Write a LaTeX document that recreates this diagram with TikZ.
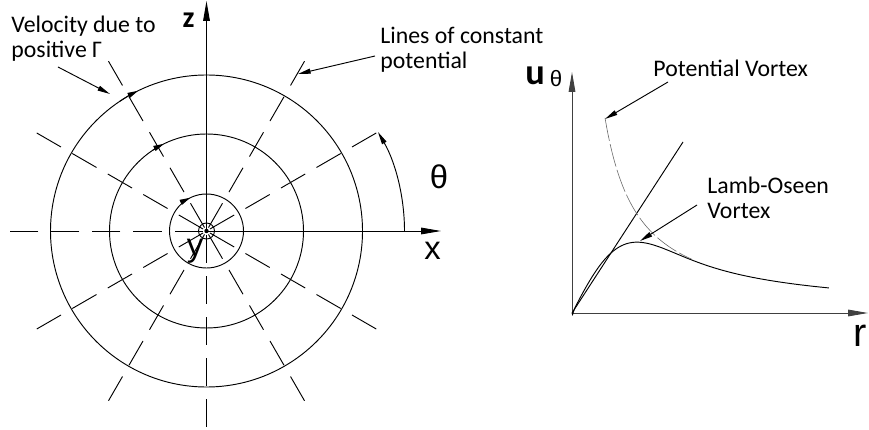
\documentclass[tikz,border=0pt]{standalone}
\usepackage{fontspec}
\setmainfont{Carlito}
\newfontfamily\arialf{Liberation Sans}
\usetikzlibrary{arrows.meta}
\begin{document}
\begin{tikzpicture}[x=0.03cm,y=-0.03cm,
  line width=0.8pt,
  axarrow/.style={-{Triangle[length=0.6cm,width=0.2cm]}},
  ldarrow/.style={-{Triangle[length=0.38cm,width=0.15cm]}},
  circarrow/.style={-{Triangle[length=0.32cm,width=0.16cm]}},
  radial/.style={dash pattern=on 0.84cm off 0.39cm},
  axiscol/.style={draw=black!75},
  lbl/.style={font=\fontsize{20.3}{21.3}\selectfont, align=left, inner sep=0pt},
  big/.style={font=\arialf\fontsize{28}{30}\selectfont, inner sep=0pt},
]
\useasboundingbox (0,0) rectangle (869,430);
% ---------- left figure ----------
\coordinate (c) at (206.5,231);
\coordinate (ztip) at (206.5,1);
\coordinate (xtip) at (441,231);
\draw[axarrow] (c) -- (ztip);
\draw[axarrow] (c) -- (xtip);
\foreach \a in {30,60,120,150,180,210,240,270,300,330}
  \draw[radial] (c) ++(-\a:4) -- ++(-\a:194);
\foreach \r in {156,97,37,8}
  \draw (c) circle[radius=\r];
\fill (c) circle[radius=2.2];
\foreach \r in {156,97,37}
  \draw[circarrow] (c) ++(-124:\r) arc[start angle=-124, end angle=-116, radius=\r];
\draw[ldarrow] (c) ++(0:198) arc[start angle=0, end angle=-30, radius=198];
% labels left
\node[lbl, anchor=west] (vel) at (11,38.5) {Velocity due to\\positive Γ};
\coordinate (velfrom) at (58,67);
\coordinate (velto) at (110,94);
\draw[ldarrow] (velfrom) -- (velto);
\node[lbl, anchor=west] (lc) at (380,49.5) {Lines of constant\\potential};
\coordinate (lcfrom) at (375,56);
\coordinate (lcto) at (298,74);
\draw[ldarrow] (lcfrom) -- (lcto);
\node[font=\bfseries\fontsize{25.6}{27}\selectfont, inner sep=0pt] (zl) at (188.5,20) {z};
\node[big] (xl) at (432.5,251) {x};
\node[big] (thl) at (439,177) {θ};
\node[big] (yl) at (195,251) {y};
% ---------- right figure ----------
\coordinate (o) at (572,313);
\coordinate (utip) at (572,72);
\coordinate (rtip) at (868,313);
\draw[axarrow, axiscol] (o) -- (utip);
\draw[axarrow, axiscol] (o) -- (rtip);
\coordinate (lineend) at (683,142);
\draw (o) -- (lineend);
\draw (o) -- plot[domain=0.01:4.431, samples=120, smooth] ({572+58*\x},{313-111*(1-exp(-\x*\x))/\x});
\draw[black!60, line width=0.5pt, dash pattern=on 0.7cm off 0.1cm]
  plot[domain=0.569:2.07, samples=40, smooth] ({572+58*\x},{313-111/\x});
\node[lbl, anchor=base west] (pv) at (653,77) {Potential Vortex};
\coordinate (pvfrom) at (668,82);
\coordinate (pvto) at (605,119);
\draw[ldarrow] (pvfrom) -- (pvto);
\node[lbl, anchor=west] (lo) at (707,198) {Lamb-Oseen\\Vortex};
\coordinate (lofrom) at (697,205);
\coordinate (loto) at (640,241);
\draw[ldarrow] (lofrom) -- (loto);
\node[font=\bfseries\fontsize{31}{33}\selectfont, inner sep=0pt] (ul) at (535,75.5) {u};
\node[font=\arialf\fontsize{19}{21}\selectfont, inner sep=0pt] (uth) at (556,79) {θ};
\node[font=\arialf\fontsize{34}{36}\selectfont, inner sep=0pt] (rl) at (860,336) {r};
\end{tikzpicture}
\end{document}
